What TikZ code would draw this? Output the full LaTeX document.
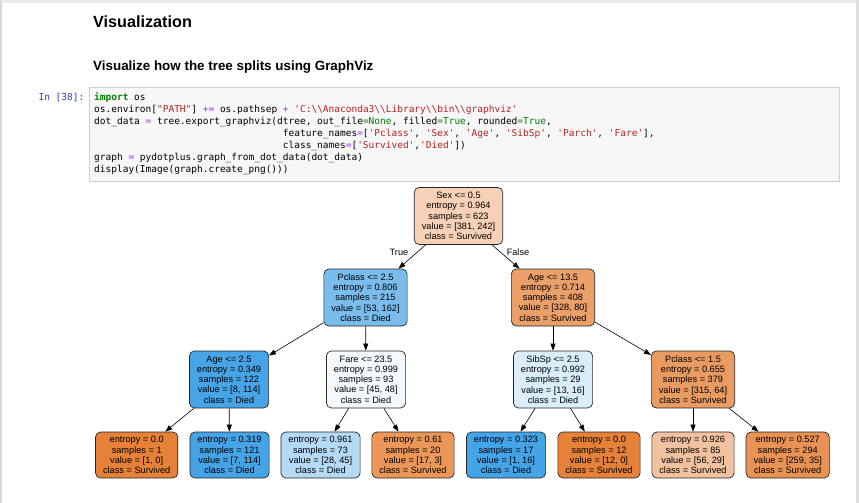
\documentclass[tikz,border=0pt]{standalone}
\usepackage{fontspec}
\setmainfont{Liberation Sans}
\setmonofont{DejaVu Sans Mono}
\usetikzlibrary{arrows.meta}
\definecolor{kwc}{HTML}{008000}
\definecolor{strc}{HTML}{BA2121}
\definecolor{opc}{HTML}{AA22FF}
\definecolor{promptc}{HTML}{303F9F}
\definecolor{codebg}{HTML}{F7F7F7}
\definecolor{codeborder}{HTML}{CFCFCF}
\definecolor{cRoot}{RGB}{246,209,183}
\definecolor{cPa}{RGB}{122,189,237}
\definecolor{cAgeA}{RGB}{235,160,105}
\definecolor{cAgeB}{RGB}{71,164,231}
\definecolor{cFare}{RGB}{243,249,253}
\definecolor{cSib}{RGB}{218,237,250}
\definecolor{cPb}{RGB}{234,155,97}
\definecolor{cLa}{RGB}{229,129,57}
\definecolor{cLb}{RGB}{69,163,230}
\definecolor{cLc}{RGB}{180,218,245}
\definecolor{cLd}{RGB}{234,151,88}
\definecolor{cLe}{RGB}{69,163,231}
\definecolor{cLf}{RGB}{229,129,57}
\definecolor{cLg}{RGB}{242,194,160}
\definecolor{cLh}{RGB}{232,146,84}
\newcommand\kw[1]{\textcolor{kwc}{\bfseries #1}}
\newcommand\kc[1]{\textcolor{kwc}{#1}}
\newcommand\strg[1]{\textcolor{strc}{#1}}
\newcommand\op[1]{\textcolor{opc}{#1}}
\newcommand\dbs{\textbackslash\textbackslash}
\begin{document}
\begin{tikzpicture}[x=1pt,y=-1pt,
  tn/.style={draw=black!85, line width=0.7pt, rounded corners=5pt, align=center,
    font=\fontsize{9.2}{10.3}\selectfont, inner xsep=7.5pt, inner ysep=0pt,
    minimum height=57pt},
  leaf/.style={tn, minimum height=46pt},
  edge/.style={draw=black, line width=0.6pt, -{Triangle[length=7pt,width=5pt]}},
  elabel/.style={font=\fontsize{9.2}{10.3}\selectfont, inner sep=0pt},
  codeline/.style={anchor=base west, inner sep=0pt, font=\fontsize{9.5}{12}\ttfamily},
]
\useasboundingbox (0,0) rectangle (859,503);
% page
\fill[white] (0,0) rectangle (859,503);
\fill[black!8] (0,0) rectangle (859,3);
\fill[black!15] (0,0) rectangle (2,503);
\fill[black!13] (856,0) rectangle (859,503);

% headings
\node[anchor=base west, inner sep=0pt, font=\fontsize{16.2}{19}\selectfont\bfseries] (h1) at (93,28) {Visualization};
\node[anchor=base west, inner sep=0pt, font=\fontsize{13.4}{16}\selectfont\bfseries] (h2) at (93,70.5) {Visualize how the tree splits using GraphViz};

% code cell
\filldraw[fill=codebg, draw=codeborder, line width=0.8pt] (89.5,87.5) rectangle (839,181);
\node[anchor=base east, inner sep=0pt, font=\fontsize{9.5}{12}\ttfamily, text=promptc] (prompt) at (84.5,100.5) {In [38]:};
\node[codeline] (c1) at (94,100.5) {\kw{import} os};
\node[codeline] (c2) at (94,112.5) {os.environ[\strg{"PATH"}] \op{+=} os.pathsep \op{+} \strg{'C:\dbs{}Anaconda3\dbs{}Library\dbs{}bin\dbs{}graphviz'}};
\node[codeline] (c3) at (94,124.5) {dot\_data \op{=} tree.export\_graphviz(dtree, out\_file\kc{=None}, filled\kc{=True}, rounded\kc{=True},};
\node[codeline] (c4) at (282.7,136.5) {feature\_names\op{=}[\strg{'Pclass'}, \strg{'Sex'}, \strg{'Age'}, \strg{'SibSp'}, \strg{'Parch'}, \strg{'Fare'}],};
\node[codeline] (c5) at (282.7,148.5) {class\_names\op{=}[\strg{'Survived'},\strg{'Died'}])};
\node[codeline] (c6) at (94,160.5) {graph \op{=} pydotplus.graph\_from\_dot\_data(dot\_data)};
\node[codeline] (c7) at (94,172.5) {display(Image(graph.create\_png()))};

% tree nodes
\node[tn, fill=cRoot] (root) at (458.5,216) {Sex <= 0.5\\entropy = 0.964\\samples = 623\\value = [381, 242]\\class = Survived};
\node[tn, fill=cPa] (pa) at (365.5,297.5) {Pclass <= 2.5\\entropy = 0.806\\samples = 215\\value = [53, 162]\\class = Died};
\node[tn, fill=cAgeA] (agea) at (553,297.5) {Age <= 13.5\\entropy = 0.714\\samples = 408\\value = [328, 80]\\class = Survived};
\node[tn, fill=cAgeB] (ageb) at (229,379.5) {Age <= 2.5\\entropy = 0.349\\samples = 122\\value = [8, 114]\\class = Died};
\node[tn, fill=cFare] (fare) at (366,379.5) {Fare <= 23.5\\entropy = 0.999\\samples = 93\\value = [45, 48]\\class = Died};
\node[tn, fill=cSib] (sib) at (553,379.5) {SibSp <= 2.5\\entropy = 0.992\\samples = 29\\value = [13, 16]\\class = Died};
\node[tn, fill=cPb] (pb) at (693,379.5) {Pclass <= 1.5\\entropy = 0.655\\samples = 379\\value = [315, 64]\\class = Survived};

\node[leaf, fill=cLa] (la) at (136.7,455) {entropy = 0.0\\samples = 1\\value = [1, 0]\\class = Survived};
\node[leaf, fill=cLb] (lb) at (229.5,455) {entropy = 0.319\\samples = 121\\value = [7, 114]\\class = Died};
\node[leaf, fill=cLc] (lc) at (320.5,455) {entropy = 0.961\\samples = 73\\value = [28, 45]\\class = Died};
\node[leaf, fill=cLd] (ld) at (413,455) {entropy = 0.61\\samples = 20\\value = [17, 3]\\class = Survived};
\node[leaf, fill=cLe] (le) at (506,455) {entropy = 0.323\\samples = 17\\value = [1, 16]\\class = Died};
\node[leaf, fill=cLf] (lf) at (599,455) {entropy = 0.0\\samples = 12\\value = [12, 0]\\class = Survived};
\node[leaf, fill=cLg] (lg) at (693,455) {entropy = 0.926\\samples = 85\\value = [56, 29]\\class = Survived};
\node[leaf, fill=cLh] (lh) at (787.7,455) {entropy = 0.527\\samples = 294\\value = [259, 35]\\class = Survived};

% edges
\draw[edge] (root) -- (pa);
\draw[edge] (root) -- (agea);
\draw[edge] (pa) -- (ageb);
\draw[edge] (pa) -- (fare);
\draw[edge] (agea) -- (sib);
\draw[edge] (agea) -- (pb);
\draw[edge] (ageb) -- (la);
\draw[edge] (ageb) -- (lb);
\draw[edge] (fare) -- (lc);
\draw[edge] (fare) -- (ld);
\draw[edge] (sib) -- (le);
\draw[edge] (sib) -- (lf);
\draw[edge] (pb) -- (lg);
\draw[edge] (pb) -- (lh);

\node[elabel] (ltrue) at (399,252) {True};
\node[elabel] (lfalse) at (518,252) {False};
\end{tikzpicture}
\end{document}
